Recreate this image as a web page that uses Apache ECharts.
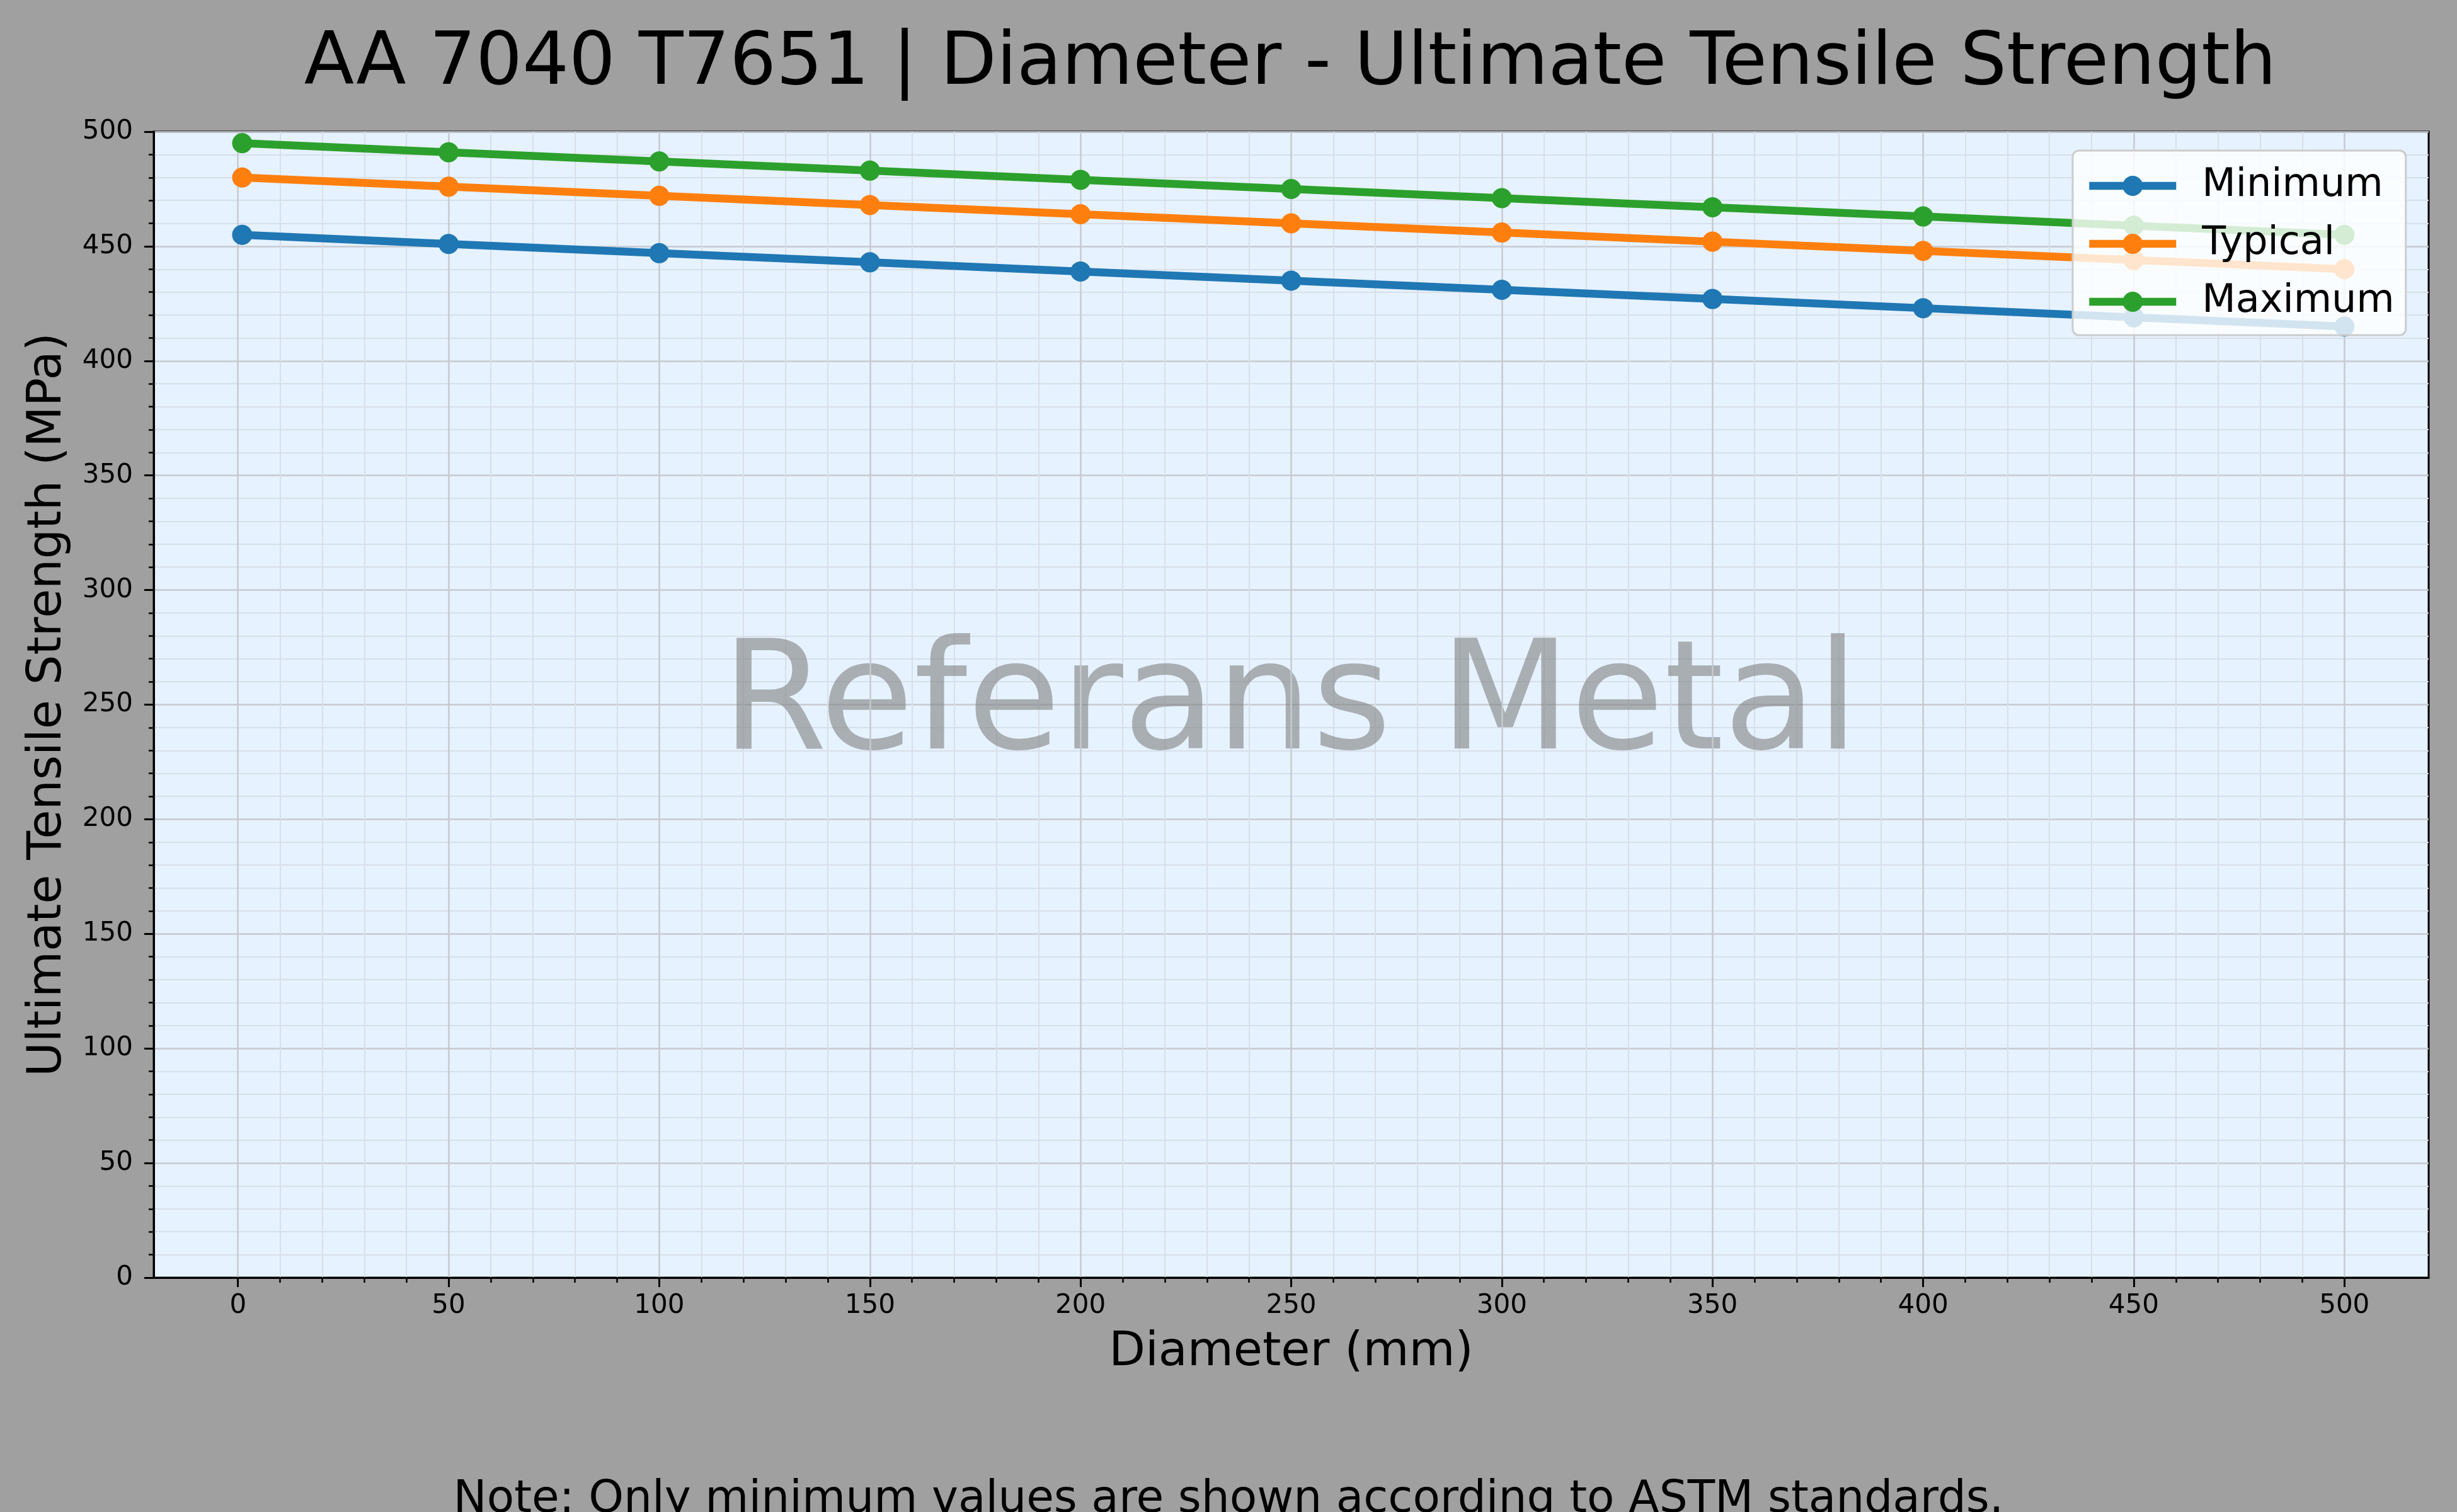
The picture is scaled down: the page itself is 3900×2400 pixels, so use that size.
<!DOCTYPE html>
<html>
<head>
<meta charset="UTF-8">
<title>AA 7040 T7651 | Diameter - Ultimate Tensile Strength</title>
<script src="https://cdn.jsdelivr.net/npm/echarts@6/dist/echarts.min.js"></script>
<style>
  html, body { margin: 0; padding: 0; background: #a0a0a0; }
  #chart { width: 3900px; height: 2400px; }
</style>
</head>
<body>
<div id="chart"></div>
<script>
// data
var diameters = [1, 50, 100, 150, 200, 250, 300, 350, 400, 450, 500];
var minimum  = [455, 451, 447, 443, 439, 435, 431, 427, 423, 419, 415];
var typical  = [480, 476, 472, 468, 464, 460, 456, 452, 448, 444, 440];
var maximum  = [495, 491, 487, 483, 479, 475, 471, 467, 463, 459, 455];

var xMajorTicks = [0, 50, 100, 150, 200, 250, 300, 350, 400, 450, 500];
var xMinorTicks = [10, 20, 30, 40, 60, 70, 80, 90, 110, 120, 130, 140, 160, 170, 180, 190,
                   210, 220, 230, 240, 260, 270, 280, 290, 310, 320, 330, 340, 360, 370, 380, 390,
                   410, 420, 430, 440, 460, 470, 480, 490];

var FONT = 'DejaVu Sans';

function pairs(xs, ys) {
  var out = [];
  for (var i = 0; i < xs.length; i++) out.push([xs[i], ys[i]]);
  return out;
}

function lineSeries(name, color, ys) {
  return {
    name: name,
    type: 'line',
    xAxisIndex: 0,
    data: pairs(diameters, ys),
    symbol: 'circle',
    symbolSize: 32,
    lineStyle: { width: 12.5, color: color },
    itemStyle: { color: color },
    emphasis: { disabled: true }
  };
}

var chart = echarts.init(document.getElementById('chart'));

var option = {
  animation: false,
  backgroundColor: '#a0a0a0',
  title: {
    text: 'AA 7040 T7651 | Diameter - Ultimate Tensile Strength',
    left: 2048,
    top: 45,
    padding: 0,
    textAlign: 'center',
    textStyle: { fontFamily: FONT, fontSize: 116, fontWeight: 'normal', color: '#000', lineHeight: 116 }
  },
  grid: {
    left: 244, right: 45, top: 209, bottom: 372,
    show: true,
    backgroundColor: '#e6f2ff',
    borderColor: '#000',
    borderWidth: 3
  },
  legend: {
    left: 3290,
    top: 239,
    orient: 'vertical',
    itemWidth: 138,
    itemHeight: 40,
    itemGap: 22,
    padding: [21, 18, 18, 20],
    backgroundColor: 'rgba(255,255,255,0.8)',
    borderColor: '#cccccc',
    borderWidth: 3,
    borderRadius: 10,
    lineStyle: { width: 12.5 },
    textStyle: { fontFamily: FONT, fontSize: 62, lineHeight: 70, color: '#000', padding: [0, 0, 0, 36] },
    data: ['Minimum', 'Typical', 'Maximum']
  },
  xAxis: [
    {
      type: 'value',
      min: -20,
      max: 520,
      name: 'Diameter (mm)',
      nameLocation: 'middle',
      nameGap: 82,
      nameTextStyle: { fontFamily: FONT, fontSize: 75, color: '#000', lineHeight: 75 },
      axisLine: { show: true, onZero: false, lineStyle: { color: '#000', width: 3 } },
      axisTick: { show: true, length: 15, lineStyle: { color: '#000', width: 3 }, customValues: xMajorTicks },
      axisLabel: { fontFamily: FONT, fontSize: 42, color: '#000', margin: 24, customValues: xMajorTicks },
      splitLine: { show: true, lineStyle: { color: '#c6cacf', width: 2.5 } },
      z: 1
    },
    {
      type: 'value',
      min: -20,
      max: 520,
      position: 'bottom',
      axisLine: { show: false, onZero: false },
      axisTick: { show: true, length: 8, lineStyle: { color: '#000', width: 2.5 }, customValues: xMinorTicks },
      axisLabel: { show: false, customValues: xMinorTicks },
      splitLine: { show: true, lineStyle: { color: '#d8dfe8', width: 2 } },
      z: 0
    }
  ],
  yAxis: {
    type: 'value',
    min: 0,
    max: 500,
    interval: 50,
    name: 'Ultimate Tensile Strength (MPa)',
    nameLocation: 'middle',
    nameGap: 130,
    nameTextStyle: { fontFamily: FONT, fontSize: 75, color: '#000', lineHeight: 75 },
    axisLine: { show: true, onZero: false, lineStyle: { color: '#000', width: 3 } },
    axisTick: { show: true, length: 15, lineStyle: { color: '#000', width: 3 } },
    minorTick: { show: true, splitNumber: 5, length: 8, lineStyle: { color: '#000', width: 2.5 } },
    axisLabel: { fontFamily: FONT, fontSize: 42, color: '#000', margin: 33 },
    splitLine: { show: true, lineStyle: { color: '#c6cacf', width: 2.5 } },
    minorSplitLine: { show: true, lineStyle: { color: '#d8dfe8', width: 2 } }
  },
  graphic: [
    {
      type: 'text',
      x: 2048,
      y: 1125,
      z: 1,
      silent: true,
      style: {
        text: 'Referans Metal',
        font: '241px "DejaVu Sans"',
        fill: 'rgba(128,128,128,0.6)',
        align: 'center',
        verticalAlign: 'middle'
      }
    },
    {
      type: 'text',
      x: 1950,
      y: 2382,
      silent: true,
      style: {
        text: 'Note: Only minimum values are shown according to ASTM standards.',
        font: '71px "DejaVu Sans"',
        fill: '#000',
        align: 'center',
        verticalAlign: 'middle'
      }
    }
  ],
  series: [
    lineSeries('Minimum', '#1f77b4', minimum),
    lineSeries('Typical', '#ff7f0e', typical),
    lineSeries('Maximum', '#2ca02c', maximum)
  ]
};

chart.setOption(option);
window.onresize = chart.resize;
</script>
</body>
</html>
